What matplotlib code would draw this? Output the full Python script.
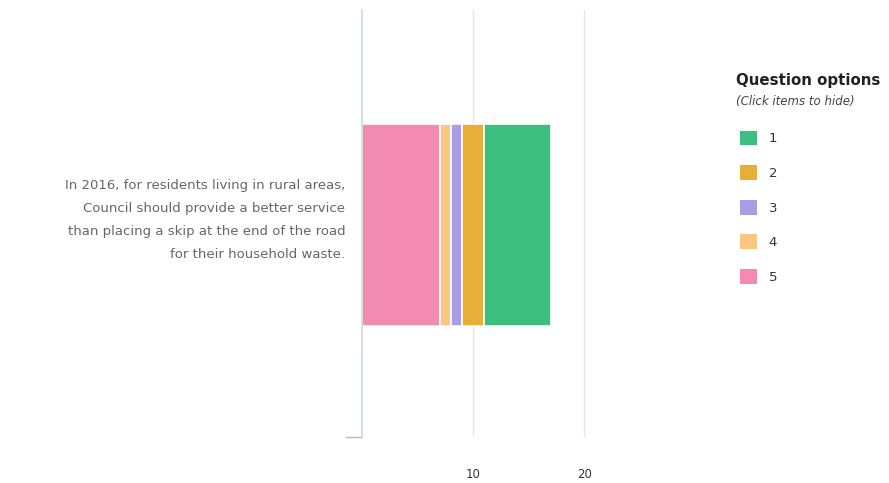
import matplotlib
matplotlib.use("Agg")
import matplotlib.pyplot as plt
from matplotlib.patches import Patch

# Survey responses for the single statement, stacked from option 5 to option 1
statement = ("In 2016, for residents living in rural areas,\n"
             "Council should provide a better service\n"
             "than placing a skip at the end of the road\n"
             "for their household waste.")
options = ["5", "4", "3", "2", "1"]
counts = [7, 1, 1, 2, 6]
colors = ["#f38bb0", "#f9c77f", "#a99de6", "#e9ae38", "#3cbf7e"]
xticks = [10, 20]
xtick_labels = ["10", "20"]

plt.rcParams["font.family"] = ["DejaVu Sans"]

W, H = 889, 483
fig = plt.figure(figsize=(W / 100, H / 100), dpi=100)

left_px, right_px, top_px, bottom_px = 362, 640, 10, 437
ax = fig.add_axes([left_px / W, 1 - bottom_px / H,
                   (right_px - left_px) / W, (bottom_px - top_px) / H])

# stacked horizontal bar
start = 0
for opt, val, col in zip(options, counts, colors):
    ax.barh(0, val, left=start, height=1.0, color=col,
            edgecolor="white", linewidth=1.2, zorder=3)
    start += val

ax.set_xlim(0, 25)
ax.set_ylim(-1.05, 1.064)

for s in ["top", "right", "bottom"]:
    ax.spines[s].set_visible(False)
ax.spines["left"].set_color("#cfd8dc")
ax.spines["left"].set_linewidth(1.2)
ax.spines["left"].set_zorder(4)

ax.set_xticks(xticks)
ax.set_xticklabels(xtick_labels)
ax.tick_params(axis="x", length=0, pad=22, labelsize=8.5, labelcolor="#333333")
ax.grid(axis="x", color="#e6e6e6", linewidth=1.0, zorder=0)

# category label beside the bar, small tick at the bottom of the axis
ax.set_yticks([0.055])
ax.set_yticklabels([statement], fontsize=9.5, color="#666666", linespacing=2.0)
ax.tick_params(axis="y", which="major", length=0, pad=12)
ax.set_yticks([-1.05], minor=True)
ax.tick_params(axis="y", which="minor", length=12, width=1.0, color="#bbbbbb")

# legend block
fig.text(736 / W, 1 - 80 / H, "Question options", fontsize=10.8,
         fontweight="bold", color="#222222", va="center", ha="left")
fig.text(736 / W, 1 - 101 / H, "(Click items to hide)", fontsize=8.5,
         style="italic", color="#444444", va="center", ha="left")

handles = [Patch(facecolor=c, edgecolor="none", label=o)
           for o, c in zip(options[::-1], colors[::-1])]
fig.legend(handles=handles, loc="upper left",
           bbox_to_anchor=(733 / W, 1 - 124 / H), frameon=False,
           fontsize=9.5, handlelength=1.35, handleheight=1.35,
           handletextpad=0.85, labelspacing=1.5, borderpad=0,
           labelcolor="#333333")

fig.savefig("out.png", dpi=100, facecolor="white")
